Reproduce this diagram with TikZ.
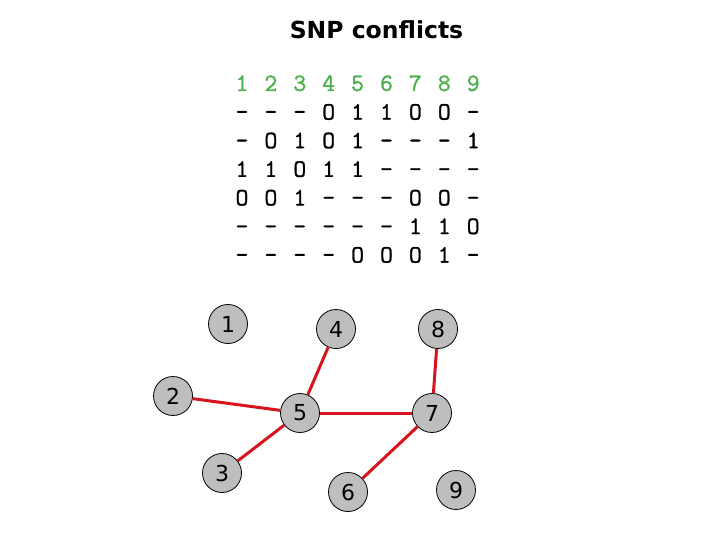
\documentclass[tikz,border=0pt]{standalone}
\usepackage{fontspec}
\setmainfont{DejaVu Sans}
\newfontfamily\tabfont[FakeBold=1.2]{Latin Modern Mono}
\definecolor{hdrgreen}{RGB}{75,175,75}
\definecolor{nodegray}{RGB}{190,190,190}
\definecolor{edgered}{RGB}{215,20,30}
\tikzset{
  snp/.style={circle, draw=black, line width=0.8pt, fill=nodegray, minimum size=39pt, inner sep=0pt, font=\fontsize{22}{22}\selectfont},
  conflict/.style={draw=edgered, line width=3pt},
  cell/.style={anchor=base, inner sep=0pt, font=\tabfont\bfseries\fontsize{25}{25}\selectfont},
}
\begin{document}
\begin{tikzpicture}[x=1pt,y=-1pt]
\useasboundingbox (0,0) rectangle (720,540);
\node[font=\bfseries\fontsize{23.5}{23.5}\selectfont, inner sep=0pt] (title) at (376.5,30) {SNP conflicts};
% table
\foreach \r [count=\j] in {{1,2,3,4,5,6,7,8,9},{-,-,-,O,1,1,O,O,-},{-,O,1,O,1,-,-,-,1},{1,1,O,1,1,-,-,-,-},{O,O,1,-,-,-,O,O,-},{-,-,-,-,-,-,1,1,O},{-,-,-,-,O,O,O,1,-}}{
  \foreach \c [count=\i] in \r {
    \ifnum\j=1
      \node[cell, text=hdrgreen] (c\j-\i) at ({242+28.9*(\i-1)},{91+28.6*(\j-1)}) {\c};
    \else
      \node[cell] (c\j-\i) at ({242+28.9*(\i-1)},{91+28.6*(\j-1)}) {\c};
    \fi
  }
}
% graph
\node[snp] (n1) at (228,324) {1};
\node[snp] (n2) at (173,396) {2};
\node[snp] (n3) at (222,473) {3};
\node[snp] (n4) at (336,329) {4};
\node[snp] (n5) at (300,413) {5};
\node[snp] (n6) at (348,492) {6};
\node[snp] (n7) at (432,413) {7};
\node[snp] (n8) at (438,329) {8};
\node[snp] (n9) at (456,490) {9};
\draw[conflict] (n4) -- (n5);
\draw[conflict] (n2) -- (n5);
\draw[conflict] (n3) -- (n5);
\draw[conflict] (n5) -- (n7);
\draw[conflict] (n8) -- (n7);
\draw[conflict] (n6) -- (n7);
\end{tikzpicture}
\end{document}
